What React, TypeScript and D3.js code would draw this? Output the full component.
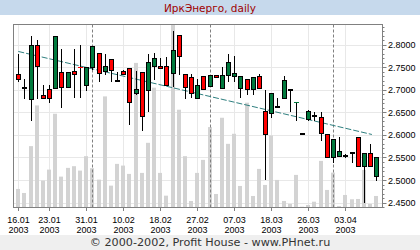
import React from "react";
import * as d3 from "d3";

const dates = [
  "16.01","17.01","20.01","21.01","22.01","23.01","24.01","27.01","28.01","29.01","30.01","31.01",
  "03.02","04.02","05.02","06.02","07.02","10.02","11.02","12.02","13.02","14.02","17.02","18.02",
  "19.02","20.02","21.02","25.02","26.02","27.02","28.02",
  "03.03","04.03","05.03","06.03","07.03","11.03","12.03","13.03","14.03","17.03","18.03",
  "19.03","20.03","21.03","24.03","25.03","26.03","27.03","28.03","31.03",
  "01.04","02.04","03.04","04.04","07.04","08.04","09.04","10.04",
];
const open = [
  2.735,2.703,2.680,2.800,2.689,2.701,2.703,2.740,2.706,2.742,
  2.751,2.711,2.751,2.781,2.741,2.768,2.720,2.741,2.748,2.692,
  2.739,2.700,2.752,2.752,2.752,2.737,2.822,2.734,2.728,2.681,
  2.730,2.708,2.733,2.705,2.733,2.731,2.703,2.725,2.702,2.731,
  2.652,2.648,2.663,2.682,2.700,2.672,2.603,2.635,2.641,2.640,
  2.602,2.550,2.553,2.554,2.562,2.595,2.532,2.561,2.510,
];
const high = [
  2.779,2.724,2.819,2.810,2.711,2.711,2.820,2.791,2.740,2.791,
  2.800,2.751,2.798,2.781,2.779,2.768,2.739,2.744,2.748,2.742,
  2.739,2.779,2.782,2.770,2.772,2.830,2.822,2.734,2.735,2.724,
  2.730,2.733,2.733,2.750,2.779,2.776,2.731,2.725,2.728,2.735,
  2.700,2.692,2.682,2.730,2.700,2.673,2.604,2.655,2.650,2.650,
  2.602,2.591,2.595,2.557,2.562,2.595,2.561,2.580,2.550,
];
const low = [
  2.720,2.682,2.632,2.682,2.682,2.672,2.703,2.661,2.706,2.685,
  2.685,2.700,2.746,2.720,2.735,2.720,2.719,2.735,2.624,2.690,
  2.612,2.652,2.723,2.748,2.711,2.709,2.735,2.682,2.683,2.681,
  2.702,2.708,2.728,2.705,2.720,2.720,2.683,2.691,2.691,2.705,
  2.502,2.640,2.663,2.682,2.654,2.634,2.603,2.633,2.632,2.589,
  2.550,2.539,2.553,2.552,2.541,2.532,2.452,2.532,2.501,
];
const close = [
  2.723,2.703,2.800,2.752,2.682,2.682,2.820,2.706,2.740,2.735,
  2.750,2.751,2.798,2.737,2.752,2.745,2.721,2.735,2.672,2.702,
  2.641,2.761,2.771,2.748,2.711,2.788,2.776,2.706,2.692,2.711,
  2.702,2.733,2.728,2.733,2.761,2.737,2.731,2.702,2.728,2.705,
  2.602,2.692,2.664,2.722,2.700,2.673,2.604,2.652,2.641,2.604,
  2.550,2.591,2.565,2.554,2.561,2.532,2.561,2.532,2.550,
];
const volume = [
  185,145,612,1018,268,378,935,308,395,412,
  368,512,392,278,1108,218,435,418,335,1442,
  345,645,1195,345,118,1830,975,512,65,345,
  475,802,135,895,635,735,215,1045,115,385,
  225,718,275,65,35,325,8,25,58,465,
  175,348,15,125,82,85,375,35,115,
];
const tickIndex = [0, 5, 11, 17, 23, 29, 35, 41, 47, 53];
const tickYear = "2003";
const priceTicks = [2.45, 2.5, 2.55, 2.6, 2.65, 2.7, 2.75, 2.8];
const trendIdx = [0, 57.3];
const trendPrice = [2.785, 2.601];
const title = "ИркЭнерго, daily";
const footer = "© 2000-2002, Profit House - www.PHnet.ru";

const W = 420;
const H = 250;
const L = 13.5;
const R = 382;
const T = 24.5;
const B = 207.5;

const UP = "#007a3d";
const DOWN = "#ff0000";
const FONT = "'Liberation Sans', Arial, sans-serif";

export default function App() {
  const x = d3.scaleLinear().domain([0, 58]).range([18.3, 376.2]);
  const y = d3.scaleLinear().domain([2.45, 2.8]).range([202.6, 44.7]);
  const v = d3.scaleLinear().domain([0, d3.max(volume) as number]).range([B, T - 0.5]);
  const fmt = d3.format(".4f");
  const col = (i: number) => Math.round(x(i));

  const monthStarts: number[] = [];
  for (let i = 1; i < dates.length; i++) {
    if (dates[i].slice(3) !== dates[i - 1].slice(3)) monthStarts.push(i);
  }
  const minorTicks = d3.range(244, 285).map((k) => k / 100).filter((p) => y(p) >= T && y(p) <= B);

  const trendLine = d3
    .line<number>()
    .x((_, k) => x(trendIdx[k]))
    .y((p) => y(p));

  return (
    <svg width={W} height={H} style={{ position: "absolute", left: 0, top: 0, display: "block" }}>
      <rect x={0} y={0} width={W} height={H} fill="#ffffff" />
      <rect x={0} y={0} width={W} height={15} fill="#c6d9ec" />
      <text x={210} y={11.5} textAnchor="middle" fontFamily="'DejaVu Sans', Verdana, sans-serif" fontSize={10.5} fill="#a00000">
        {title}
      </text>

      {/* grid */}
      {priceTicks.map((p) => (
        <line key={"gh" + p} x1={L} x2={R} y1={Math.round(y(p)) + 0.5} y2={Math.round(y(p)) + 0.5} stroke="#e8e8e8" />
      ))}
      {tickIndex.map((i) => (
        <line key={"gv" + i} x1={col(i) + 0.5} x2={col(i) + 0.5} y1={T} y2={B} stroke="#e8e8e8" />
      ))}

      {/* volume */}
      {volume.map((vol, i) => (
        <rect key={"v" + i} x={col(i) - 2} y={v(vol)} width={4} height={B - v(vol)} fill="#d3d3d3" />
      ))}

      {/* month separators */}
      {monthStarts.map((i) => (
        <line key={"m" + i} x1={col(i) + 0.5} x2={col(i) + 0.5} y1={T} y2={B} stroke="#808080" strokeDasharray="3,2" />
      ))}

      {/* trend */}
      <path d={trendLine(trendPrice) || ""} fill="none" stroke="#2f7f7f" strokeWidth={1} strokeDasharray="6,2" />

      {/* candles */}
      {open.map((o, i) => {
        const c = close[i];
        const cx = col(i) + 0.5;
        const yh = Math.round(y(high[i]));
        const yl = Math.round(y(low[i]));
        const yt = Math.round(y(Math.max(o, c)));
        const yb = Math.round(y(Math.min(o, c)));
        const color = c >= o ? UP : DOWN;
        let body;
        if (o === c) {
          body = <rect x={cx - 2.5} y={yt - 1} width={5} height={2} fill="#000" />;
        } else if (yb - yt < 1) {
          body = <rect x={cx - 2.5} y={yt} width={5} height={1} fill={color} />;
        } else {
          body = <rect x={cx - 2} y={yt + 0.5} width={4} height={yb - yt} fill={color} stroke="#000" strokeWidth={1} />;
        }
        return (
          <g key={"c" + i}>
            {yl > yh && <line x1={cx} x2={cx} y1={yh} y2={yl + 1} stroke="#000" strokeWidth={1} />}
            {body}
          </g>
        );
      })}

      {/* frame */}
      <rect x={L} y={T} width={R + 0.5 - L} height={B - T} fill="none" stroke="#808080" />

      {/* right axis */}
      {minorTicks.map((p) => (
        <line key={"mt" + p} x1={R + 0.5} x2={R + 2.5} y1={Math.round(y(p)) + 0.5} y2={Math.round(y(p)) + 0.5} stroke="#808080" />
      ))}
      {priceTicks.map((p) => (
        <g key={"pt" + p}>
          <line x1={R + 0.5} x2={R + 4.5} y1={Math.round(y(p)) + 0.5} y2={Math.round(y(p)) + 0.5} stroke="#808080" />
          <text x={388} y={y(p) + 3.5} fontFamily={FONT} fontSize={9} fill="#000">
            {fmt(p)}
          </text>
        </g>
      ))}

      {/* bottom axis */}
      {tickIndex.map((i) => (
        <g key={"xt" + i}>
          <line x1={col(i) + 0.5} x2={col(i) + 0.5} y1={B} y2={B + 3.5} stroke="#808080" />
          <text x={col(i) + 0.5} y={222.5} textAnchor="middle" fontFamily={FONT} fontSize={9} fill="#000">
            {dates[i]}
          </text>
          <text x={col(i) + 0.5} y={232.5} textAnchor="middle" fontFamily={FONT} fontSize={9} fill="#000">
            {tickYear}
          </text>
        </g>
      ))}

      <rect x={0} y={235} width={W} height={15} fill="#efefef" />
      <text x={210} y={245.5} textAnchor="middle" fontFamily="'DejaVu Sans', Verdana, sans-serif" fontSize={11.2} fill="#333">
        {footer}
      </text>
    </svg>
  );
}
